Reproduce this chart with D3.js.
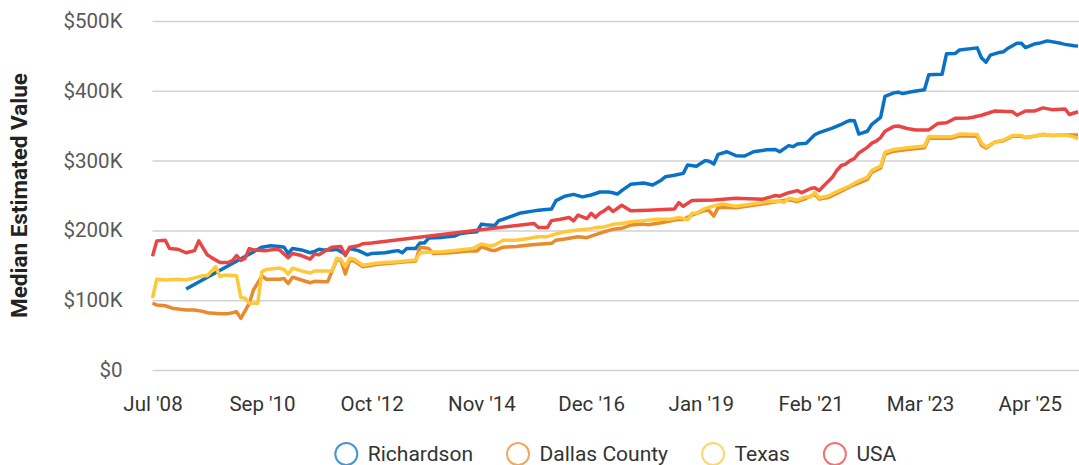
<!DOCTYPE html>
<html><head><meta charset="utf-8">
<script src="https://cdn.jsdelivr.net/npm/d3@7"></script>
<style>
html,body{margin:0;padding:0;background:#fff;}
svg{display:block;}
svg text{font-family:"Roboto","Noto Sans",sans-serif !important;}
</style></head><body>
<svg id="chart" width="1079" height="465"></svg>
<script>
// ---- data (values in $K) ----
const seriesNames = ["Richardson", "Dallas County", "Texas", "USA"];
const seriesColors = ["#0a72c6", "#e98a2c", "#fec83a", "#ea4545"];
const yTickValues = [0, 100, 200, 300, 400, 500];
const xTickMonths = ["2008-07","2010-09","2012-10","2014-11","2016-12","2019-01","2021-02","2023-03","2025-04"];

const richardson = [
["2009-03",116],["2010-09",176],["2010-11",178],["2011-01",177],["2011-02",176],["2011-03",167],["2011-04",174],
["2011-06",172],["2011-08",168],["2011-09",170],["2011-10",173],["2011-11",172],["2012-01",172],["2012-02",173],
["2012-04",166],["2012-05",174],["2012-07",171],["2012-09",165],["2012-10",167],["2013-01",168],["2013-03",170],
["2013-04",171],["2013-05",168],["2013-06",174],["2013-08",174],["2013-09",182],["2013-10",182],["2013-11",189],
["2014-02",190],["2014-05",192],["2014-06",195],["2014-08",197],["2014-10",198],["2014-11",209],["2014-12",208],
["2015-02",207],["2015-03",214],["2015-04",216],["2015-06",220.6],["2015-08",225],["2015-11",228],["2015-12",229],
["2016-03",230.6],["2016-04",242.6],["2016-06",249],["2016-08",251.6],["2016-10",248],["2016-12",250.7],["2017-02",255],
["2017-04",255],["2017-05",254],["2017-06",252],["2017-07",257],["2017-09",266],["2017-12",268],["2018-02",265],
["2018-04",272],["2018-05",277],["2018-07",279],["2018-09",281.7],["2018-10",293.7],["2018-12",292],["2019-02",300],
["2019-03",299],["2019-04",295],["2019-05",309],["2019-07",312.7],["2019-09",307],["2019-11",306.6],["2020-01",312.7],
["2020-04",315.5],["2020-06",316],["2020-07",312.7],["2020-09",321.5],["2020-10",320],["2020-11",323.8],["2021-01",325],
["2021-03",337],["2021-04",340],["2021-07",346.5],["2021-09",352],["2021-10",355],["2021-11",357.5],["2021-12",357],
["2022-01",338],["2022-03",342],["2022-04",352],["2022-06",362],["2022-07",392],["2022-09",397],["2022-10",398],
["2022-11",396],["2023-01",398.7],["2023-04",401.5],["2023-05",423],["2023-08",423.6],["2023-09",453],["2023-11",453.5],
["2023-12",458.5],["2024-04",461.5],["2024-05",447],["2024-06",441],["2024-07",451],["2024-09",455],["2024-10",456],
["2024-11",461],["2025-01",468],["2025-02",468],["2025-03",462],["2025-05",467],["2025-06",468],["2025-08",471.5],
["2025-11",468],["2025-12",466.5],["2026-02",464.5],["2026-03",464]
];

const dallasCounty = [
["2008-07",96],["2008-08",93],["2008-10",92],["2008-12",88],["2009-03",86],["2009-05",86],["2009-07",84],["2009-08",82],
["2009-11",80.7],["2010-01",80.7],["2010-03",83.5],["2010-04",74],["2010-06",95.5],["2010-07",114.6],["2010-09",134.7],
["2010-10",130],["2011-01",130],["2011-02",131],["2011-03",124],["2011-04",133],["2011-06",129],["2011-08",125],
["2011-09",127],["2011-11",126.5],["2011-12",126.5],["2012-02",157.6],["2012-03",157.6],["2012-04",137.5],["2012-05",157.6],
["2012-06",156],["2012-08",148],["2012-11",151],["2013-04",154],["2013-08",156],["2013-09",176],["2013-11",174],
["2013-12",167],["2014-04",168],["2014-08",170.5],["2014-10",170.5],["2014-11",176.7],["2015-01",172],["2015-02",171],
["2015-04",176],["2015-07",177],["2015-10",179],["2015-12",180],["2016-03",181.5],["2016-04",186],["2016-06",187.7],
["2016-09",191],["2016-11",189.6],["2017-01",194],["2017-03",198],["2017-05",201.5],["2017-07",203],["2017-09",207.7],
["2017-12",209],["2018-01",208],["2018-04",211],["2018-07",215],["2018-09",216],["2018-11",222],["2019-02",229],
["2019-03",228],["2019-04",220.6],["2019-05",233],["2019-09",232.5],["2020-04",238.8],["2020-09",244],["2020-11",241.5],
["2021-01",246],["2021-03",252],["2021-04",245],["2021-06",247],["2021-08",253],["2021-11",262.6],["2022-01",268],
["2022-03",273],["2022-04",283.5],["2022-06",289.5],["2022-07",309.5],["2022-09",313.5],["2022-12",316],["2023-04",318.5],
["2023-05",332],["2023-10",332],["2023-12",335.5],["2024-04",335],["2024-05",322],["2024-06",318],["2024-08",326.5],
["2024-10",328.5],["2024-12",335],["2025-02",335],["2025-03",333],["2025-05",335],["2025-07",337.5],["2025-09",336],
["2025-12",336.7],["2026-03",336.5]
];

const texas = [
["2008-07",103],["2008-08",130],["2008-10",129],["2009-01",130],["2009-03",129],["2009-05",132],["2009-07",135],
["2009-08",135],["2009-10",148],["2009-11",134],["2009-12",136],["2010-03",135],["2010-04",104],["2010-05",103],
["2010-06",96],["2010-08",95.5],["2010-09",141],["2010-10",144],["2011-01",146],["2011-02",144],["2011-03",137.5],
["2011-04",146],["2011-06",142],["2011-08",139],["2011-09",142],["2011-11",142],["2012-01",142],["2012-02",160],
["2012-03",158.6],["2012-04",148],["2012-05",160],["2012-06",158.6],["2012-08",150],["2012-11",153],["2013-01",154],
["2013-04",155],["2013-08",157.6],["2013-09",168],["2013-11",168.6],["2014-02",169.5],["2014-06",172],["2014-09",174],
["2014-11",180.5],["2015-01",177.6],["2015-02",179],["2015-04",186],["2015-07",186],["2015-10",188.7],["2015-12",191],
["2016-02",191],["2016-04",195],["2016-06",198],["2016-09",200.6],["2016-11",201.5],["2017-01",204],["2017-03",205],
["2017-05",208.7],["2017-07",210],["2017-09",212.5],["2017-12",214],["2018-03",216],["2018-06",216],["2018-08",218.5],
["2018-09",217],["2018-10",215],["2018-11",224.5],["2018-12",225],["2019-02",231.6],["2019-04",235],["2019-06",237.8],
["2019-09",234.5],["2020-01",238],["2020-04",241],["2020-07",242],["2020-08",240],["2020-09",246],["2020-11",243.6],
["2021-01",248],["2021-02",248],["2021-03",254.5],["2021-04",246.5],["2021-06",249.3],["2021-08",255.5],["2021-11",264],
["2022-01",271],["2022-03",276],["2022-04",286],["2022-06",292],["2022-07",312],["2022-09",316],["2022-12",318.5],
["2023-04",321],["2023-05",334.5],["2023-10",334],["2023-12",338],["2024-04",337.5],["2024-05",325],["2024-06",319.5],
["2024-08",326.5],["2024-10",329.5],["2024-12",336],["2025-02",336],["2025-03",333],["2025-05",335],["2025-07",337.8],
["2025-09",336],["2025-12",336.7],["2026-02",334],["2026-03",331]
];

const usa = [
["2008-07",163],["2008-08",185],["2008-10",186],["2008-11",174],["2009-01",173],["2009-03",168],["2009-05",171],
["2009-06",185],["2009-08",165],["2009-09",161],["2009-11",154],["2010-01",154],["2010-02",157],["2010-03",164],
["2010-04",157],["2010-05",160],["2010-06",174],["2010-07",172],["2010-10",171],["2010-12",173],["2011-01",172],
["2011-03",161],["2011-04",167],["2011-06",164],["2011-08",159],["2011-09",166],["2011-10",165],["2011-11",169],
["2012-01",176],["2012-03",177],["2012-04",164],["2012-05",176],["2012-07",178],["2012-08",181],["2012-10",182],
["2015-11",210],["2015-12",204],["2016-02",204],["2016-03",214],["2016-05",216],["2016-07",218.6],["2016-08",213.5],
["2016-09",222],["2016-11",217],["2016-12",224.5],["2017-01",218.7],["2017-02",225],["2017-03",228],["2017-04",233],
["2017-05",227],["2017-07",236],["2017-09",228],["2018-01",229],["2018-07",230.6],["2018-08",239.7],["2018-09",234.5],
["2018-11",243],["2019-04",243.6],["2019-09",246],["2020-03",244.5],["2020-05",248],["2020-06",250],["2020-07",249],
["2020-09",254],["2020-11",257],["2020-12",254],["2021-02",260],["2021-03",261],["2021-04",257],["2021-05",263.6],
["2021-07",276],["2021-08",286],["2021-09",293],["2021-10",295],["2021-11",300],["2021-12",303],["2022-01",311],
["2022-03",319],["2022-04",325],["2022-05",328],["2022-06",333],["2022-07",342],["2022-09",349],["2022-10",349.6],
["2022-12",346],["2023-02",343.8],["2023-04",344],["2023-05",344],["2023-07",353],["2023-09",354.3],["2023-11",360.6],
["2024-02",361],["2024-03",362],["2024-05",365],["2024-08",371],["2024-12",370],["2025-01",365],["2025-03",371],
["2025-05",371],["2025-07",375.5],["2025-09",373],["2025-12",374],["2026-01",366],["2026-03",370]
];

const seriesData = [richardson, dallasCounty, texas, usa];

// ---- drawing ----
const FONT = "Roboto";
const parse = d3.timeParse("%Y-%m");
const svg = d3.select("#chart");
const W = 1079, H = 465;
const plotLeft = 152.5, plotRight = 1078, plotTop = 21, plotBottom = 370;

const x = d3.scaleTime()
  .domain([parse("2008-07"), parse("2010-09"), parse("2026-03")])
  .range([plotLeft, 262, plotRight]);
const y = d3.scaleLinear().domain([0, 500]).range([plotBottom, plotTop]);

// gridlines + y labels
const yAxis = d3.axisLeft(y).tickValues(yTickValues)
  .tickSize(-(W - plotLeft))
  .tickPadding(30)
  .tickFormat(d => "$" + (d === 0 ? "0" : d + "K"));
const gy = svg.append("g").attr("transform", `translate(${plotLeft},0)`).call(yAxis);
gy.attr("font-family", FONT);
gy.select(".domain").remove();
gy.selectAll(".tick line").attr("stroke", "#d2d2d2").attr("stroke-width", 1.5);
gy.selectAll(".tick text").attr("fill", "#595959").style("font-size", "20.5px");

// x axis labels
const xAxis = d3.axisBottom(x)
  .tickValues(xTickMonths.map(parse))
  .tickSize(0).tickPadding(26)
  .tickFormat(d3.timeFormat("%b '%y"));
const gx = svg.append("g").attr("transform", `translate(0,${plotBottom})`).call(xAxis);
gx.attr("font-family", FONT);
gx.select(".domain").remove();
gx.selectAll(".tick text").attr("fill", "#333").style("font-size", "20.5px");

// y axis title
svg.append("text")
  .attr("transform", `translate(27,${(plotTop + plotBottom) / 2}) rotate(-90)`)
  .attr("text-anchor", "middle")
  .attr("font-family", FONT)
  .attr("fill", "#222").style("font-size", "22.5px").style("font-weight", "bold")
  .text("Median Estimated Value");

// lines
const line = d3.line()
  .x(d => x(parse(d[0])))
  .y(d => y(d[1]));
seriesData.forEach((data, i) => {
  svg.append("path")
    .datum(data)
    .attr("fill", "none")
    .attr("stroke", seriesColors[i])
    .attr("stroke-width", 3.5)
    .attr("stroke-linejoin", "round")
    .attr("d", line);
});

// legend
const legend = svg.append("g").attr("font-family", FONT);
const legendY = 454;
let cursor = 0;
seriesNames.forEach((name, i) => {
  const g = legend.append("g");
  g.append("circle").attr("cx", cursor + 12).attr("cy", legendY).attr("r", 11)
    .attr("fill", "none").attr("stroke", seriesColors[i]).attr("stroke-opacity", 0.75).attr("stroke-width", 2);
  const t = g.append("text").attr("x", cursor + 33.5).attr("y", legendY).attr("dy", "0.35em")
    .attr("fill", "#333").style("font-size", "21px").text(name);
  const w = t.node().getComputedTextLength();
  cursor += 33.5 + w + 33;
});
const legendWidth = cursor - 33;
legend.attr("transform", `translate(${(plotLeft + plotRight) / 2 - legendWidth / 2},0)`);
</script>
</body></html>
